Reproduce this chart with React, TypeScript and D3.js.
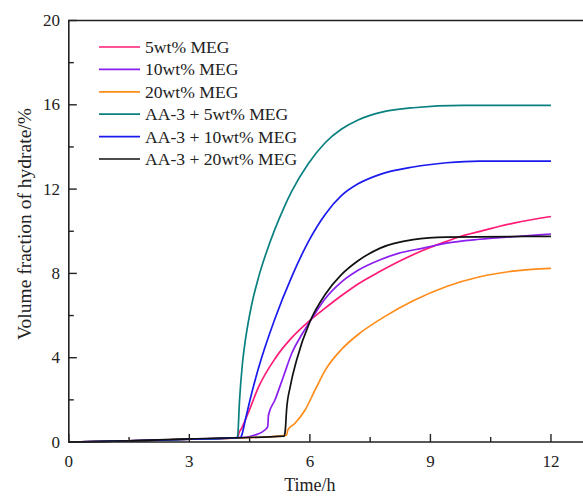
import React from "react";
import * as d3 from "d3";

// Hydrate volume fraction over time, [time (h), volume fraction (%)]
const meg5: [number, number][] = [
  [0, 0], [1.5, 0.05], [3, 0.13], [4.2, 0.2], [4.24, 0.45], [4.3, 0.65], [4.47, 1.4],
  [4.72, 2.6], [5.13, 3.95], [5.55, 4.95], [5.96, 5.7], [6.38, 6.35], [6.79, 6.95],
  [7.2, 7.5], [7.75, 8.1], [8.2, 8.55], [8.82, 9.1], [9.4, 9.52], [9.65, 9.69],
  [10.3, 10.03], [11.1, 10.4], [12, 10.7],
];
const meg10: [number, number][] = [
  [0, 0], [1.5, 0.05], [3, 0.13], [4.4, 0.22], [4.63, 0.33], [4.88, 0.57], [4.95, 0.73],
  [4.97, 1.28], [5.13, 1.99], [5.34, 3.1], [5.55, 4.21], [5.8, 5.1], [6.0, 5.71],
  [6.38, 6.8], [6.79, 7.6], [7.2, 8.15], [7.75, 8.65], [8.2, 8.95], [8.82, 9.2],
  [9.4, 9.44], [10.23, 9.62], [11.06, 9.74], [12, 9.87],
];
const meg20: [number, number][] = [
  [0, 0], [1.5, 0.05], [3, 0.13], [5.0, 0.25], [5.42, 0.33], [5.45, 0.57], [5.63, 0.89],
  [5.88, 1.52], [6.13, 2.47], [6.38, 3.4], [6.79, 4.4], [7.2, 5.1], [7.87, 5.96],
  [8.57, 6.7], [9.4, 7.38], [10.23, 7.84], [11.06, 8.11], [12, 8.24],
];
const aa3Meg5: [number, number][] = [
  [0, 0], [1.5, 0.05], [3, 0.13], [4.18, 0.2], [4.2, 0.25], [4.25, 2.0], [4.32, 3.7],
  [4.4, 4.9], [4.55, 6.5], [4.72, 7.8], [4.9, 8.9], [5.13, 10.1], [5.35, 11.1],
  [5.55, 11.9], [5.96, 13.2], [6.38, 14.2], [6.79, 14.85], [7.2, 15.28], [7.79, 15.65],
  [8.57, 15.86], [9.8, 15.97], [12, 15.97],
];
const aa3Meg10: [number, number][] = [
  [0, 0], [1.5, 0.05], [3, 0.13], [4.28, 0.22], [4.3, 0.3], [4.4, 1.1], [4.55, 2.3],
  [4.72, 3.5], [5.13, 5.85], [5.55, 7.85], [5.96, 9.5], [6.38, 10.8], [6.79, 11.7],
  [7.2, 12.25], [7.75, 12.7], [8.57, 13.05], [9.4, 13.25], [10.23, 13.33], [12, 13.33],
];
const aa3Meg20: [number, number][] = [
  [0, 0], [1.5, 0.05], [3, 0.15], [5.36, 0.28], [5.39, 0.6], [5.42, 1.52], [5.51, 2.62],
  [5.67, 3.89], [6.0, 5.71], [6.38, 7.0], [6.79, 7.95], [7.2, 8.6], [7.75, 9.2],
  [8.57, 9.6], [9.4, 9.72], [12, 9.76],
];

const seriesNames = [
  "5wt% MEG",
  "10wt% MEG",
  "20wt% MEG",
  "AA-3 + 5wt% MEG",
  "AA-3 + 10wt% MEG",
  "AA-3 + 20wt% MEG",
];
const seriesData = [meg5, meg10, meg20, aa3Meg5, aa3Meg10, aa3Meg20];
const seriesColors = ["#ff1a75", "#8a1ef0", "#ff8c1a", "#0a8080", "#1a1aee", "#111111"];

const xMajorTicks = [0, 3, 6, 9, 12];
const xMinorTicks = [1.5, 4.5, 7.5, 10.5];
const yMajorTicks = [0, 4, 8, 12, 16, 20];
const yMinorTicks = [2, 6, 10, 14, 18];

const W = 583;
const H = 496;
const left = 68.8;
const bottom = 442;
const top = 20.5;
const pxPerHour = 40.18;
const font = "'Liberation Serif', 'Times New Roman', serif";

export default function App() {
  const x = d3.scaleLinear().domain([0, 13]).range([left, left + 13 * pxPerHour]);
  const y = d3.scaleLinear().domain([0, 20]).range([bottom, top]);
  const line = d3
    .line<[number, number]>()
    .x((d) => x(d[0]))
    .y((d) => y(d[1]))
    .curve(d3.curveMonotoneX);
  const right = x(13);

  return (
    <svg
      width={W}
      height={H}
      style={{ position: "absolute", left: 0, top: 0, background: "#fff" }}
      fontFamily={font}
    >
      <rect width={W} height={H} fill="#fff" />
      {seriesData.map((d, i) => (
        <path key={i} d={line(d) || ""} fill="none" stroke={seriesColors[i]} strokeWidth={1.7} />
      ))}

      {/* frame */}
      <path
        d={`M${right},${top}H${left}V${bottom}H${right}`}
        fill="none"
        stroke="#222"
        strokeWidth={1.6}
      />

      {/* y ticks, drawn inward */}
      {yMajorTicks.map((t) => (
        <g key={"ym" + t}>
          <line x1={left} x2={left + 8} y1={y(t)} y2={y(t)} stroke="#222" strokeWidth={1.4} />
          <text x={60} y={y(t) + 5.5} textAnchor="end" fontSize={17} fill="#222">
            {t}
          </text>
        </g>
      ))}
      {yMinorTicks.map((t) => (
        <line key={"yn" + t} x1={left} x2={left + 5} y1={y(t)} y2={y(t)} stroke="#222" strokeWidth={1.4} />
      ))}

      {/* x ticks, drawn inward */}
      {xMajorTicks.map((t) => (
        <g key={"xm" + t}>
          <line x1={x(t)} x2={x(t)} y1={bottom} y2={bottom - 8} stroke="#222" strokeWidth={1.4} />
          <text x={x(t)} y={467} textAnchor="middle" fontSize={17} fill="#222">
            {t}
          </text>
        </g>
      ))}
      {xMinorTicks.map((t) => (
        <line key={"xn" + t} x1={x(t)} x2={x(t)} y1={bottom} y2={bottom - 5} stroke="#222" strokeWidth={1.4} />
      ))}

      {/* axis titles */}
      <text x={x(6)} y={491} textAnchor="middle" fontSize={18} fill="#222">
        Time/h
      </text>
      <text
        transform={`translate(31,${224}) rotate(-90)`}
        textAnchor="middle"
        fontSize={19.5}
        fill="#222"
      >
        Volume fraction of hydrate/%
      </text>

      {/* legend */}
      {seriesNames.map((name, i) => {
        const cy = 47 + i * 22.4;
        return (
          <g key={name}>
            <line x1={99} x2={140} y1={cy} y2={cy} stroke={seriesColors[i]} strokeWidth={1.7} />
            <text x={145} y={cy + 6} fontSize={17.6} fill="#222">
              {name}
            </text>
          </g>
        );
      })}
    </svg>
  );
}
